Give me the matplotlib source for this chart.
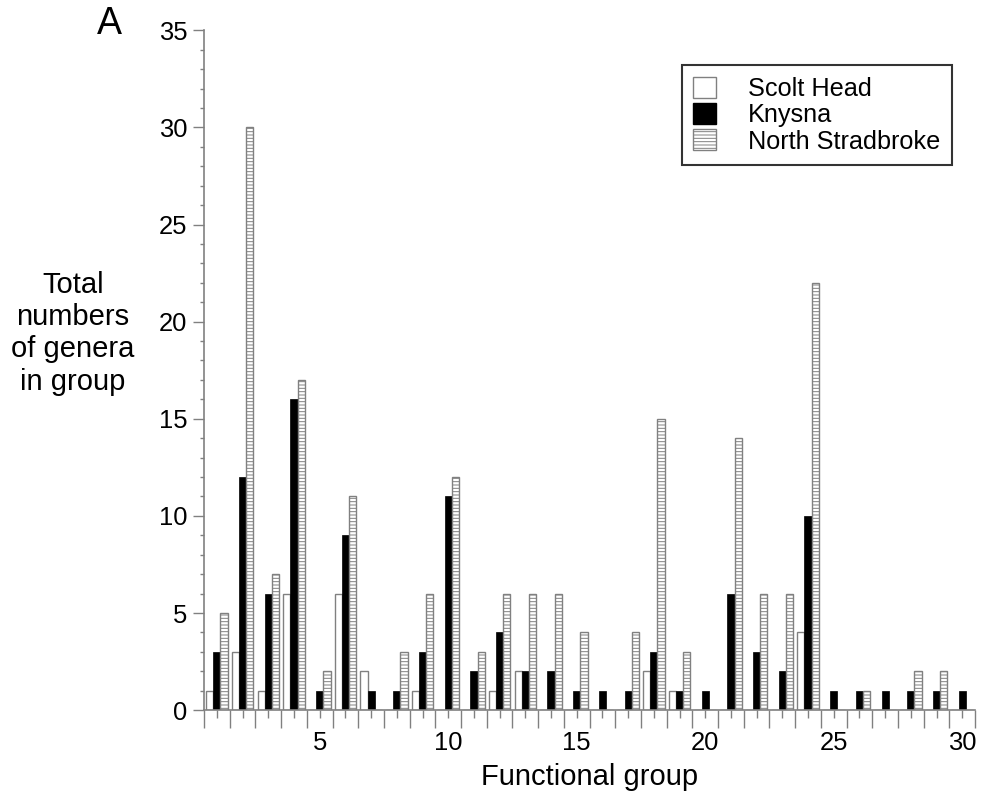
import matplotlib.pyplot as plt
import numpy as np
from matplotlib.patches import Patch
from matplotlib.ticker import MultipleLocator, FixedLocator

plt.rcParams['font.family'] = ['Liberation Sans', 'DejaVu Sans']
plt.rcParams['hatch.linewidth'] = 0.7

groups = np.arange(1, 31)
scolt_head = [1, 3, 1, 6, 0, 6, 2, 0, 1, 0, 0, 1, 2, 0, 0,
              0, 0, 2, 1, 0, 0, 0, 0, 4, 0, 0, 0, 0, 0, 0]
knysna = [3, 12, 6, 16, 1, 9, 1, 1, 3, 11, 2, 4, 2, 2, 1,
          1, 1, 3, 1, 1, 6, 3, 2, 10, 1, 1, 1, 1, 1, 1]
north_stradbroke = [5, 30, 7, 17, 2, 11, 0, 3, 6, 12, 3, 6, 6, 6, 4,
                    0, 4, 15, 3, 0, 14, 6, 6, 22, 0, 1, 0, 2, 2, 0]
labels = ['Scolt Head', 'Knysna', 'North Stradbroke']

fig = plt.figure(figsize=(9.81, 7.97), dpi=100)
ax = fig.add_axes([0.208, 0.109, 0.786, 0.853])

w = 0.28
grey = '#808080'
ax.bar(groups - w, scolt_head, w, facecolor='white', edgecolor=grey, linewidth=1)
ax.bar(groups, knysna, w, facecolor='black', edgecolor='black', linewidth=0.5)
ax.bar(groups + w, north_stradbroke, w, facecolor='white', edgecolor=grey,
       hatch='-----', linewidth=1)

ax.set_xlim(0.5, 30.5)
ax.set_ylim(0, 35)

for s in ['top', 'right']:
    ax.spines[s].set_visible(False)
for s in ['left', 'bottom']:
    ax.spines[s].set_color(grey)
    ax.spines[s].set_linewidth(1.2)

ax.yaxis.set_major_locator(MultipleLocator(5))
ax.yaxis.set_minor_locator(MultipleLocator(1))
ax.set_xticks(groups)
ax.set_xticklabels([str(g) if g % 5 == 0 else '' for g in groups])
ax.xaxis.set_minor_locator(FixedLocator(np.arange(0.5, 31, 1)))

ax.tick_params(axis='y', which='major', length=8, width=1, color=grey,
               labelsize=18.4, pad=4)
ax.tick_params(axis='y', which='minor', length=3, width=1, color=grey)
ax.tick_params(axis='x', which='major', length=6, width=1, color=grey,
               labelsize=18.4, pad=9)
ax.tick_params(axis='x', which='minor', length=13, width=1, color=grey)

ax.set_xlabel('Functional group', fontsize=21, labelpad=6)
fig.text(0.0745, 0.582, 'Total\nnumbers\nof genera\nin group', ha='center',
         va='center', fontsize=21, linespacing=1.2)
fig.text(0.112, 0.97, 'A', ha='center', va='center', fontsize=27)

handles = [Patch(facecolor='white', edgecolor=grey),
           Patch(facecolor='black', edgecolor='black'),
           Patch(facecolor='white', edgecolor=grey, hatch='-----')]
leg = ax.legend(handles, labels, loc='upper left',
                bbox_to_anchor=(0.62, 0.9485), fontsize=18.2, frameon=True,
                fancybox=False, edgecolor='black', handlelength=0.91,
                handleheight=0.91, handletextpad=1.26, labelspacing=0.08,
                borderpad=0.45, borderaxespad=0)
leg.get_frame().set_linewidth(1.5)

fig.savefig('out.png', dpi=100)
